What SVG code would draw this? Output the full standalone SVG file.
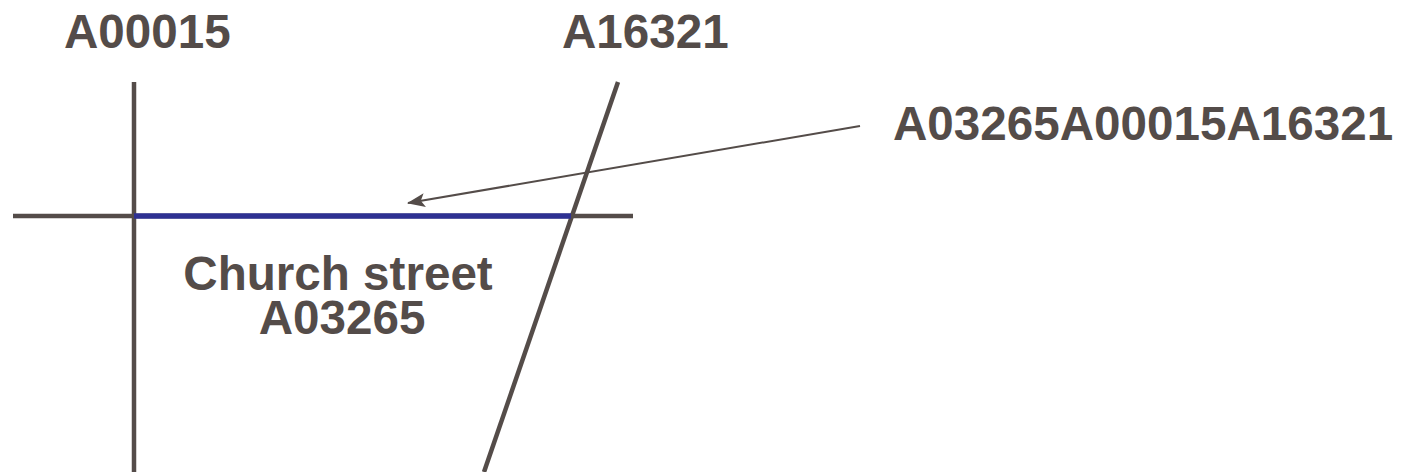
<svg xmlns="http://www.w3.org/2000/svg" width="1412" height="472" viewBox="0 0 1412 472">
<style>
.t{font-family:"Liberation Sans",Arial,sans-serif;font-weight:bold;font-size:47.6px;fill:#544c49}
.road{stroke:#544c49;stroke-width:4.5;fill:none}
</style>
<defs>
<marker id="ah2" markerWidth="18" markerHeight="14" refX="17" refY="7" orient="auto" markerUnits="userSpaceOnUse">
<path d="M0,0 L18,7 L0,14 L4,7 Z" fill="#544c49"/>
</marker>
</defs>
<g id="road-A00015">
<line class="road" x1="134" y1="82" x2="134" y2="472"/>
<text class="t" x="64" y="48">A00015</text>
</g>
<g id="road-A16321">
<line class="road" x1="618" y1="82" x2="484" y2="472"/>
<text class="t" x="562" y="48">A16321</text>
</g>
<g id="road-cross">
<line class="road" x1="13" y1="216" x2="633" y2="216"/>
</g>
<g id="church-street">
<line x1="134" y1="216" x2="571" y2="216" stroke="#2e3192" stroke-width="5.5"/>
<text class="t" x="338" y="290" text-anchor="middle">Church street</text>
<text class="t" x="342" y="334" text-anchor="middle">A03265</text>
</g>
<g id="label-segment">
<text class="t" x="893" y="140">A03265A00015A16321</text>
</g>
<g id="connectors">
<line x1="860" y1="126" x2="408" y2="203" stroke="#544c49" stroke-width="2" marker-end="url(#ah2)"/>
</g>
</svg>
